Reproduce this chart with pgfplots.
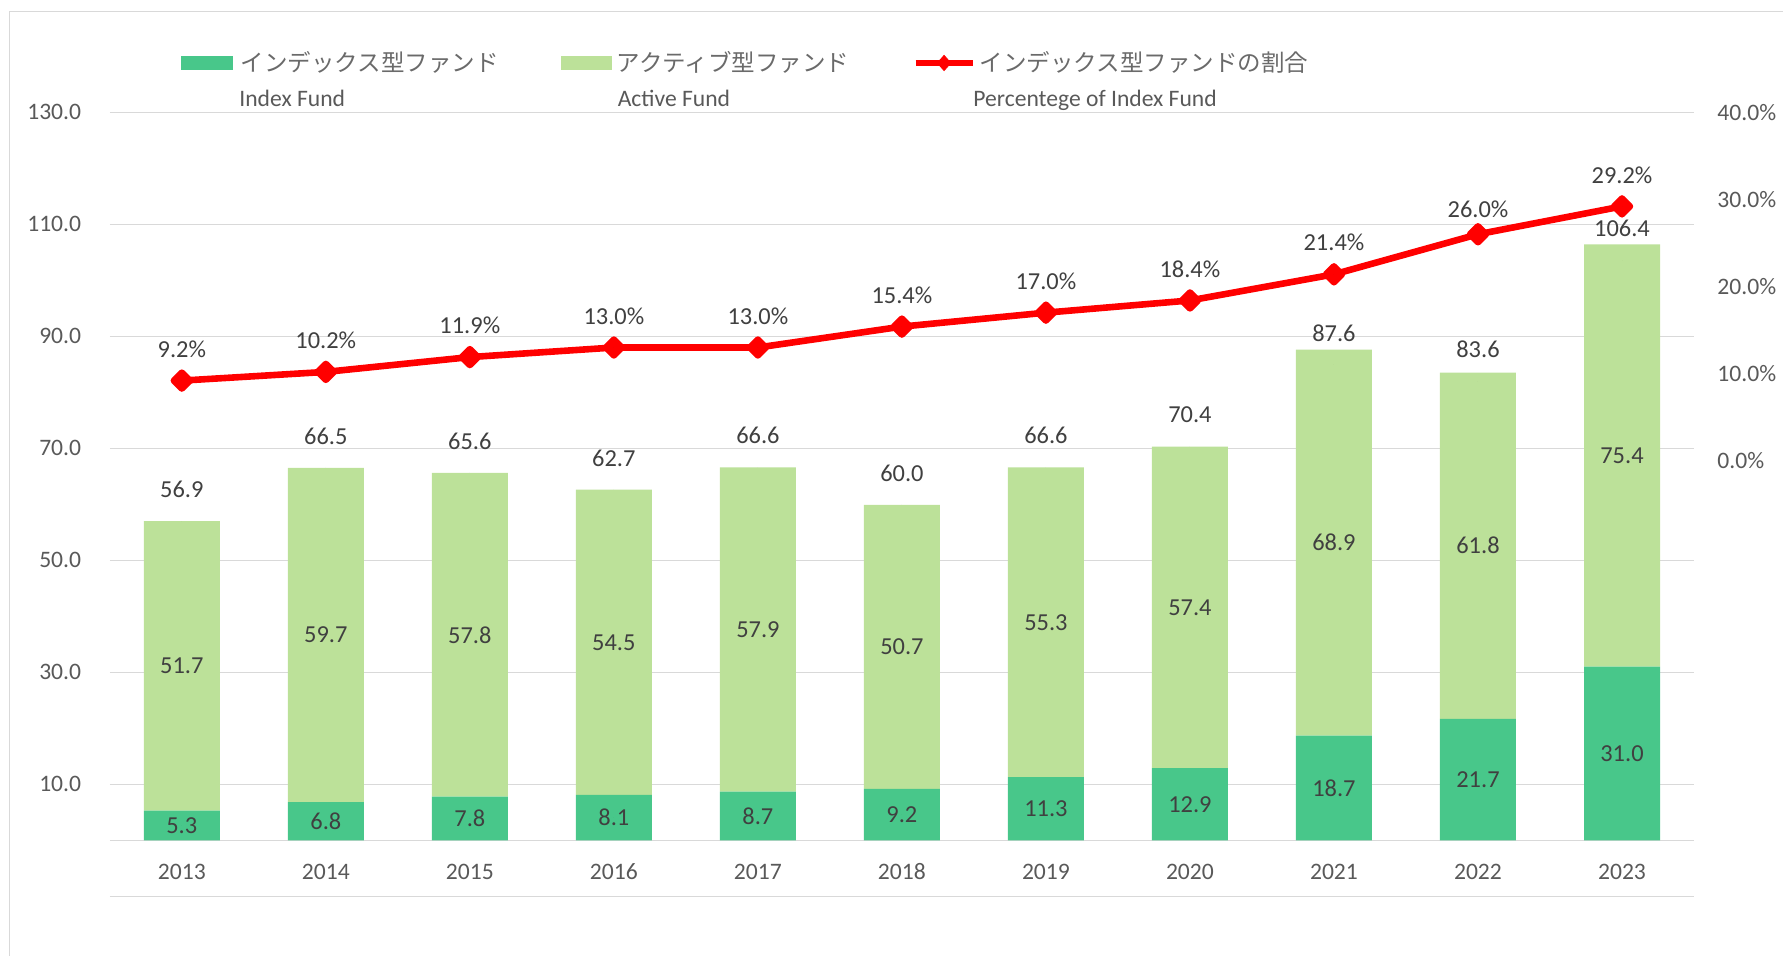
\documentclass[border=0pt]{standalone}
\usepackage{fontspec}
\setmainfont{Carlito}
\newfontfamily\jp{Noto Sans CJK JP}
\usepackage{pgfplots}
\usepackage{pgfplotstable}
\pgfplotsset{compat=1.18}

\definecolor{idxgreen}{HTML}{48C78A}
\definecolor{actgreen}{HTML}{8CCB4F}
\definecolor{gridgray}{HTML}{D9D9D9}
\definecolor{ticktext}{HTML}{595959}
\definecolor{jptext}{HTML}{6A6A6A}
\definecolor{labeltext}{HTML}{404040}
\definecolor{linered}{HTML}{FF0000}

% x: 0 = 2013 ... 10 = 2023; *pos = where the value label sits
\pgfplotstableread{
x idx act tot totpos idxpos actpos
0 5.3 51.7 56.9 57.0 2.65 31.15
1 6.8 59.7 66.5 66.5 3.4 36.65
2 7.8 57.8 65.6 65.6 3.9 36.7
3 8.1 54.5 62.7 62.6 4.05 35.35
4 8.7 57.9 66.6 66.6 4.35 37.65
5 9.2 50.7 60.0 59.9 4.6 34.55
6 11.3 55.3 66.6 66.6 5.65 38.95
7 12.9 57.4 70.4 70.3 6.45 41.6
8 18.7 68.9 87.6 84.9 9.35 53.15
9 21.7 61.8 83.6 82.0 10.85 52.6
10 31.0 75.4 106.4 103.6 15.5 68.7
}\funds

\pgfplotstableread{
x pct lblpos
0 9.2 9.2
1 10.2 10.2
2 11.9 11.9
3 13.0 13.0
4 13.0 13.0
5 15.4 15.4
6 17.0 17.0
7 18.4 18.4
8 21.4 21.4
9 26.0 25.2
10 29.2 29.2
}\share

\newcommand{\chartfont}{\fontsize{11.8}{14}\selectfont}
\newcommand{\valfont}{\fontsize{12.2}{14}\selectfont}

\pgfplotsset{
  /pgf/number format/assume math mode=true,
  base/.style={
    at={(54.9pt,-448.15pt)}, anchor=south west,
    width=792.1pt, height=392pt, scale only axis,
    xmin=-0.5, xmax=10.5,
  },
  vlabel/.style={
    only marks, mark=*, mark size=0pt, mark options={draw=none, fill=none},
    nodes near coords={\pgfmathprintnumber[fixed,fixed zerofill,precision=1]{\pgfplotspointmeta}},
    point meta=explicit,
    every node near coord/.style={anchor=center, font=\valfont, text=labeltext},
  },
  patchlegend/.style={legend image code/.code={\fill[##1] (0pt,-3.5pt) rectangle (#1,3.5pt);}},
  linelegend/.style={legend image code/.code={
    \draw[linered, line width=2.6pt] (0pt,0pt) -- (28.5pt,0pt);
    \fill[linered] (14.25pt,3.8pt) -- (17.6pt,0pt) -- (14.25pt,-3.8pt) -- (10.9pt,0pt) -- cycle;}},
}

\begin{document}
\begin{tikzpicture}
\path[use as bounding box] (0,0) rectangle (891.5pt,-478pt);
\draw[gridgray, line width=0.75pt] (4.8pt,-478pt) -- (4.8pt,-5.85pt) -- (891.5pt,-5.85pt);

% bars
\begin{axis}[base,
  ymin=-10, ymax=130,
  ybar stacked, bar width=38pt,
  axis line style={draw=none},
  major tick length=0pt, tick style={draw=none},
  xtick={0,...,10},
  xticklabels={2013,2014,2015,2016,2017,2018,2019,2020,2021,2022,2023},
  ytick={-10,10,30,50,70,90,110,130},
  yticklabels={{},10.0,30.0,50.0,70.0,90.0,110.0,130.0},
  ymajorgrids, major grid style={gridgray, line width=0.75pt},
  extra y ticks={0}, extra y tick labels={},
  extra y tick style={grid=major, major grid style={gridgray, line width=0.75pt}},
  tick label style={font=\chartfont, text=ticktext, inner sep=0pt},
  yticklabel style={anchor=east, xshift=-14.15pt},
  xticklabel style={anchor=center, yshift=12.3pt},
  legend columns=3,
  legend cell align=left,
  legend style={at={(0.04494,1.0629)}, anchor=west, draw=none, fill=none,
    inner sep=0pt, outer sep=0pt, column sep=0pt, row sep=0pt,
    nodes={inner sep=0pt, outer sep=0pt},
    font=\fontsize{11.75}{14}\selectfont\jp, text=jptext},
]
\addplot[fill=idxgreen, draw=none, patchlegend=25.85pt]
  table[x=x, y=idx]{\funds};
\addlegendentry{\hspace*{4.15pt}\makebox[160pt][l]{インデックス型ファンド}}
\addplot[fill=actgreen!58!white, draw=none, patchlegend=25.5pt]
  table[x=x, y=act]{\funds};
\addlegendentry{\hspace*{2.5pt}\makebox[148pt][l]{アクティブ型ファンド}}
\addlegendimage{linelegend}
\addlegendentry{\hspace*{2.25pt}インデックス型ファンドの割合}
\end{axis}

% share of index funds, right axis
\begin{axis}[base,
  ymin=-50, ymax=40,
  axis x line=none, axis y line*=right,
  y axis line style={draw=none},
  major tick length=0pt, tick style={draw=none},
  xtick=\empty,
  ytick={0,10,20,30,40},
  yticklabel={\pgfmathprintnumber[fixed,fixed zerofill,precision=1]{\tick}\%},
  yticklabel style={anchor=west, xshift=11.5pt, font=\chartfont, text=ticktext, inner sep=0pt},
  clip=false,
]
\addplot[linered, line width=3.3pt, line join=round, mark=square*, mark size=2.8pt,
  mark options={rotate=45, draw=none, fill=linered, solid}]
  table[x=x, y=pct]{\share};
\addplot[vlabel,
  nodes near coords={\pgfmathprintnumber[fixed,fixed zerofill,precision=1]{\pgfplotspointmeta}\%},
  every node near coord/.append style={yshift=15.8pt}]
  table[x=x, y=lblpos, meta=pct]{\share};
\end{axis}

% value labels of the bars
\begin{axis}[base, ymin=-10, ymax=130, hide axis, clip=false]
\addplot[vlabel] table[x=x, y=idxpos, meta=idx]{\funds};
\addplot[vlabel] table[x=x, y=actpos, meta=act]{\funds};
\addplot[vlabel, every node near coord/.append style={yshift=15.8pt}]
  table[x=x, y=totpos, meta=tot]{\funds};
\end{axis}

\node[anchor=base west, font=\chartfont, text=ticktext, inner sep=0pt] at (119.5pt,-53.3pt) {Index Fund};
\node[anchor=base west, font=\chartfont, text=ticktext, inner sep=0pt] at (308.7pt,-53.3pt) {Active Fund};
\node[anchor=base west, font=\chartfont, text=ticktext, inner sep=0pt] at (486.5pt,-53.3pt) {Percentege of Index Fund};
\end{tikzpicture}
\end{document}
